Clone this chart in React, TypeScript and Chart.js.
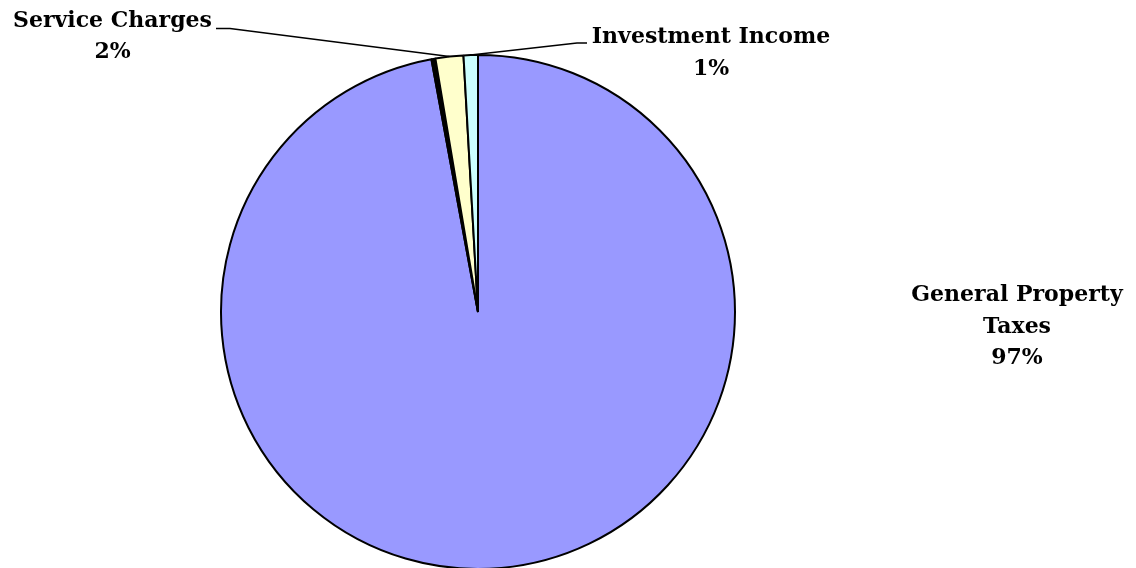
import React, { useEffect, useRef } from "react";
import { Chart, registerables } from "chart.js";

Chart.register(...registerables);

// Data (clockwise from 12 o'clock)
const categories = ["General Property Taxes", "Other", "Service Charges", "Investment Income"];
const values = [97.1, 0.25, 1.75, 0.9];
const percentLabels = ["97%", "", "2%", "1%"];
const sliceColors = ["#9999FF", "#000000", "#FFFFCC", "#CCFFFF"];
// Displayed label lines for each category (without percent)
const nameLines = [["General Property", "Taxes"], [], ["Service Charges"], ["Investment Income"]];

const FONT = "bold 22px 'DejaVu Serif'";
const LINE_H = 31.5;

// Label placement (center x, first line baseline y), leader path end points
const labelLayout: Array<null | { cx: number; by: number; leader?: number[][] }> = [
  { cx: 1017, by: 301 },
  null,
  { cx: 112.5, by: 26.5, leader: [[230, 28.5], [216, 28.5]] },
  { cx: 711, by: 43, leader: [[577, 43], [587, 43]] },
];

const labelPlugin = {
  id: "pieLabels",
  afterDatasetsDraw(chart: any) {
    const ctx = chart.ctx;
    const meta = chart.getDatasetMeta(0);
    ctx.save();
    ctx.font = FONT;
    ctx.fillStyle = "#000";
    ctx.textAlign = "center";
    ctx.textBaseline = "alphabetic";
    meta.data.forEach((arc: any, i: number) => {
      const lay = labelLayout[i];
      if (!lay) return;
      const p = arc.getProps(["x", "y", "startAngle", "endAngle", "outerRadius"], true);
      const mid = (p.startAngle + p.endAngle) / 2;
      const sx = p.x + Math.cos(mid) * p.outerRadius;
      const sy = p.y + Math.sin(mid) * p.outerRadius;
      if (lay.leader) {
        ctx.beginPath();
        ctx.strokeStyle = "#000";
        ctx.lineWidth = 1.5;
        ctx.moveTo(sx, sy);
        lay.leader.forEach((pt) => ctx.lineTo(pt[0], pt[1]));
        ctx.stroke();
      }
      const lines = [...nameLines[i], percentLabels[i]];
      lines.forEach((t, k) => ctx.fillText(t, lay.cx, lay.by + k * LINE_H));
    });
    ctx.restore();
  },
};

export default function App() {
  const ref = useRef<HTMLCanvasElement | null>(null);
  useEffect(() => {
    if (!ref.current) return;
    const chart = new Chart(ref.current, {
      type: "pie",
      data: {
        labels: categories,
        datasets: [
          {
            data: values,
            backgroundColor: sliceColors,
            borderColor: "#000000",
            borderWidth: 2,
          },
        ],
      },
      options: {
        animation: false,
        responsive: true,
        maintainAspectRatio: false,
        layout: { padding: { left: 220, right: 400, top: 54, bottom: 0 } },
        plugins: {
          legend: { display: false },
          tooltip: { enabled: false },
        },
      },
      plugins: [labelPlugin],
    });
    return () => chart.destroy();
  }, []);
  return (
    <div style={{ position: "fixed", left: 0, top: 0, width: 1136, height: 570, background: "#fff" }}>
      <canvas ref={ref} />
    </div>
  );
}
